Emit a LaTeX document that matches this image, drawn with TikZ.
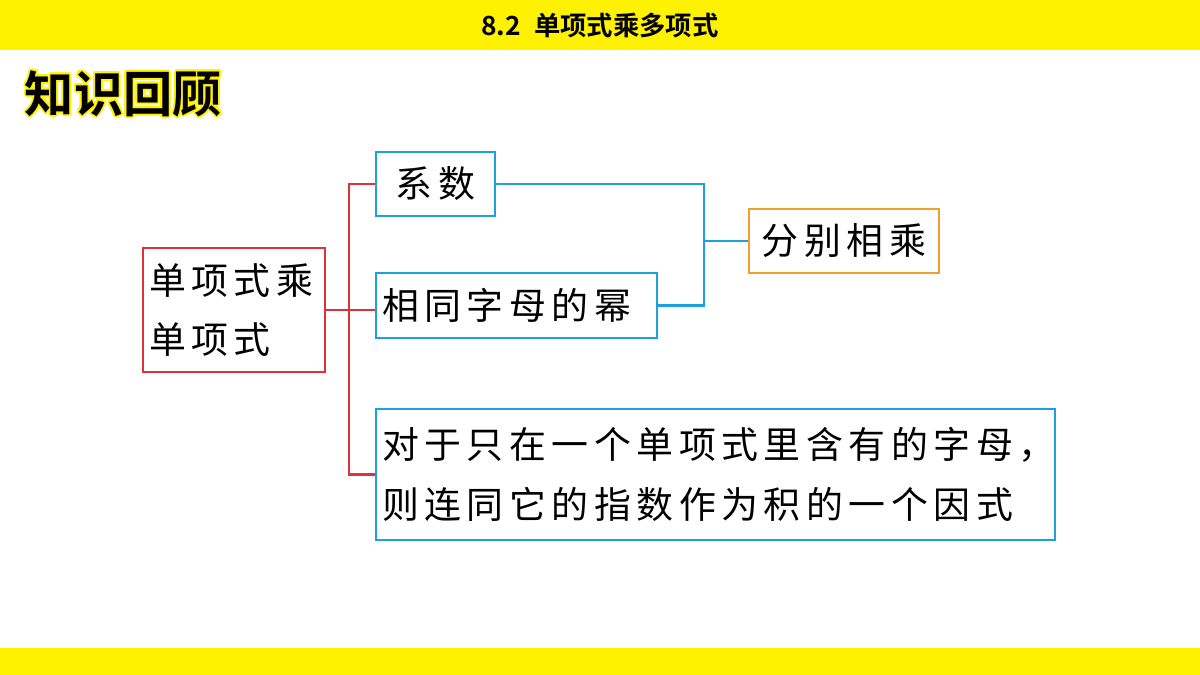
\documentclass[tikz,border=0pt]{standalone}
\usepackage{fontspec}
\newfontfamily\cjk[LetterSpace=15]{Noto Sans CJK SC}
\newfontfamily\cjkb[BoldFont=* Bold]{Noto Sans CJK SC}
\usetikzlibrary{positioning,calc}
\definecolor{barYellow}{HTML}{FFF200}
\definecolor{boxBlue}{HTML}{1BA1E2}
\definecolor{boxRed}{HTML}{E0303A}
\definecolor{boxOrange}{HTML}{F0A030}
\newcommand*{\kaiti}{\cjk\fontsize{21pt}{34pt}\selectfont}

\begin{document}
\begin{tikzpicture}[x=0.02cm, y=-0.02cm, line width=1.3pt]
    \tikzstyle{box}=[draw, inner xsep=0.12cm, inner ysep=0pt, font=\kaiti, text=black]
    \useasboundingbox (0,0) rectangle (1200,675);
    % bars
    \fill[barYellow] (0,0) rectangle (1200,50);
    \fill[barYellow] (0,648) rectangle (1200,675);
    \node (title) at (600,25) {\cjkb\bfseries\fontsize{15pt}{18pt}\selectfont 8.2\enspace 单项式乘多项式};
    % heading with outline
    \foreach \dx/\dy in {-2/0,2/0,0/-2,0/2,-1.5/-1.5,1.5/1.5,-1.5/1.5,1.5/-1.5}
        \node[anchor=west, text=barYellow] at ({18+\dx},{94+\dy}) {\cjkb\bfseries\fontsize{28pt}{32pt}\selectfont 知识回顾};
    \node[anchor=west] (head) at (18,94) {\cjkb\bfseries\fontsize{28pt}{32pt}\selectfont 知识回顾};
    % boxes
    \node[box, draw=boxRed, text width=3.4cm, align=left, minimum height=2.48cm] (mono) at (234,310) {单项式乘\\单项式};
    \node[box, draw=boxBlue, minimum width=2.38cm, minimum height=1.28cm] (coef) at (435.5,184) {系数};
    \node[box, draw=boxBlue, text width=5.38cm, align=left, minimum height=1.3cm] (pow) at (516.5,305.5) {相同字母的幂};
    \node[box, draw=boxBlue, text width=13.34cm, align=left, minimum height=2.62cm] (rest) at (715.5,474.5) {对于只在一个单项式里含有的字母，\\则连同它的指数作为积的一个因式};
    \node[box, draw=boxOrange, minimum width=3.8cm, minimum height=1.28cm] (mult) at (844,241) {分别相乘};
    % connectors
    \coordinate (split) at (349,310);
    \draw[boxRed] (mono.east) -- (split);
    \draw[boxRed] (split) |- (coef.west);
    \draw[boxRed] (split) -- (pow.west |- split);
    \draw[boxRed] (split) |- (rest.west);
    \coordinate (join) at (704,241);
    \draw[boxBlue] (coef.east) -| (join);
    \draw[boxBlue] (pow.east) -| (join);
    \draw[boxBlue] (join) -- (mult.west);
\end{tikzpicture}
\end{document}
